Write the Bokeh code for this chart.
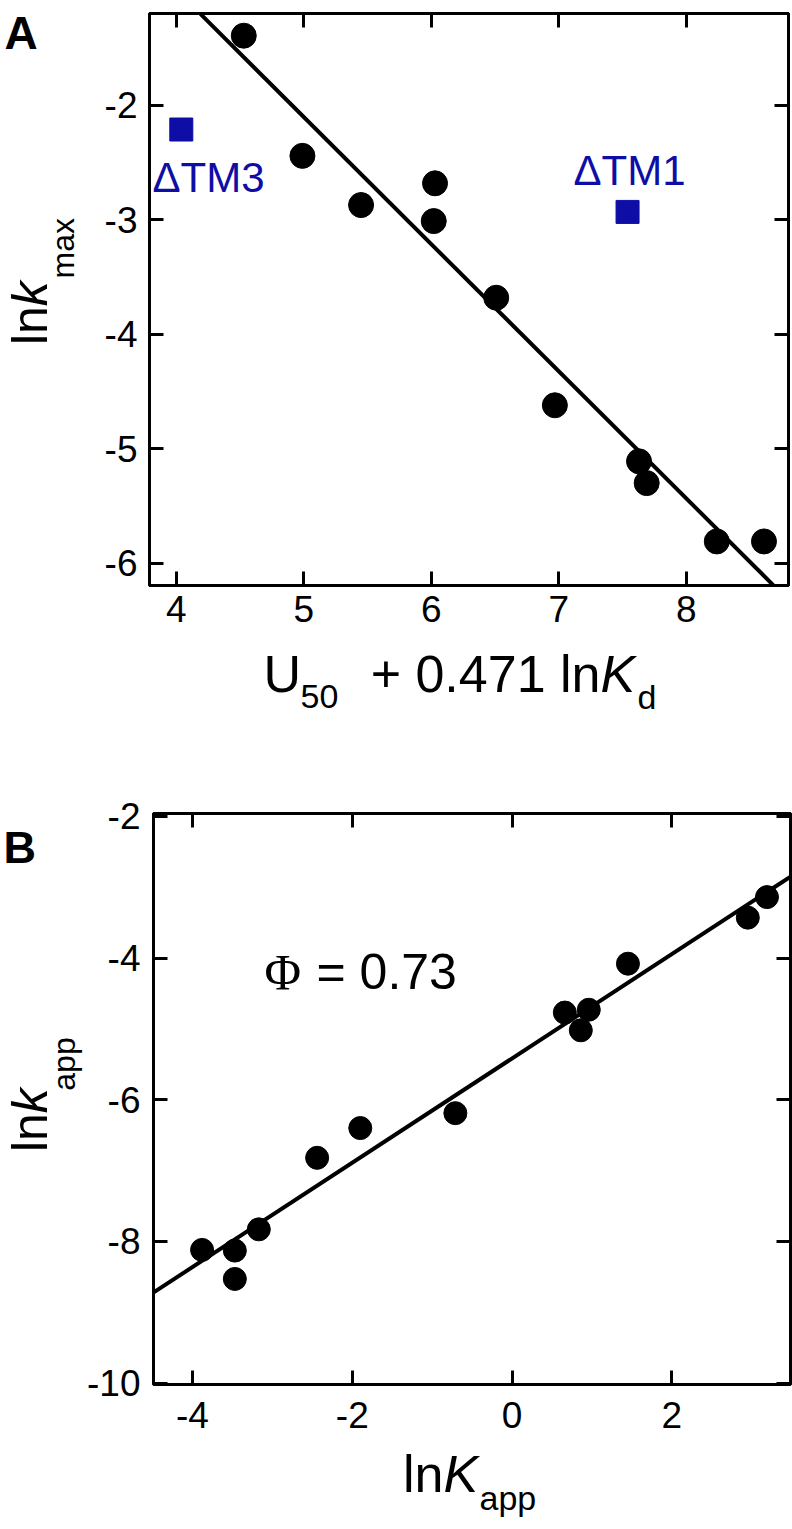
from math import pi
from bokeh.plotting import figure
from bokeh.layouts import column, row
from bokeh.models import Label, LinearAxis, FixedTicker, Range1d
from bokeh.embed import file_html
from bokeh.resources import INLINE

# ---------------- Panel A data ----------------
a_x = [4.53, 4.99, 5.45, 6.02, 6.03, 6.51, 6.97, 7.63, 7.69, 8.24, 8.61]
a_y = [-1.39, -2.44, -2.87, -3.01, -2.68, -3.68, -4.62, -5.11, -5.30, -5.81, -5.81]
tm_x = [4.04, 7.54]
tm_y = [-2.21, -2.93]
tm_names = ["ΔTM3", "ΔTM1"]
a_fit_x = [4.19, 8.69]
a_fit_y = [-1.2, -6.2]
a_xticks = [4, 5, 6, 7, 8]
a_yticks = [-6, -5, -4, -3, -2]

# ---------------- Panel B data ----------------
b_x = [-3.88, -3.47, -3.47, -3.17, -2.44, -1.90, -0.71, 0.66, 0.86, 0.96, 1.45, 2.95, 3.19]
b_y = [-8.12, -8.13, -8.53, -7.83, -6.82, -6.40, -6.19, -4.77, -5.02, -4.73, -4.08, -3.43, -3.14]
b_fit_x = [-4.5, 3.5]
b_fit_y = [-8.73, -2.84]
b_xticks = [-4, -2, 0, 2]
b_yticks = [-10, -8, -6, -4, -2]
phi_parts = ["Φ", "= 0.73"]

FONT = "Liberation Sans"
SERIF = "Liberation Serif"
BLUE = "#0E0EA6"
MID = 0.35  # offset from alphabetic baseline to the anchor the renderer centres on


def make_fig(xr, yr, fw, fh, bl, br, bt, bb, xticks, yticks, xstand, ystand):
    p = figure(frame_width=fw, frame_height=fh,
               x_range=Range1d(*xr), y_range=Range1d(*yr),
               output_backend="svg", toolbar_location=None,
               min_border_left=bl, min_border_right=br,
               min_border_top=bt, min_border_bottom=bb)
    p.xgrid.visible = False
    p.ygrid.visible = False
    p.outline_line_color = "black"
    p.outline_line_width = 3
    p.background_fill_color = "white"
    p.border_fill_color = "white"
    p.xaxis.ticker = FixedTicker(ticks=xticks)
    p.yaxis.ticker = FixedTicker(ticks=yticks)
    for axis, ticks in ((p.xaxis[0], xticks), (p.yaxis[0], yticks)):
        axis.axis_line_width = 3
        axis.major_tick_in = 14
        axis.major_tick_out = 0
        axis.major_tick_line_width = 3
        axis.minor_tick_line_color = None
        axis.major_label_text_font = FONT
        axis.major_label_text_font_size = "37px"
        axis.major_label_text_color = "black"
        axis.major_label_overrides = {t: str(t) for t in ticks}
    p.xaxis[0].major_label_standoff = xstand
    p.yaxis[0].major_label_standoff = ystand
    for ticks, side in ((xticks, "above"), (yticks, "right")):
        ax = LinearAxis(ticker=FixedTicker(ticks=ticks),
                        major_label_overrides={t: "" for t in ticks},
                        major_label_text_font_size="1px",
                        major_label_standoff=0, major_tick_in=14, major_tick_out=0,
                        major_tick_line_width=3, minor_tick_line_color=None,
                        axis_line_width=3)
        p.add_layout(ax, side)
    return p


def label_fig(w, h):
    f = figure(width=w, height=h, x_range=Range1d(0, w), y_range=Range1d(h, 0),
               min_border=0, toolbar_location=None, output_backend="svg",
               x_axis_location=None, y_axis_location=None)
    f.xgrid.visible = False
    f.ygrid.visible = False
    f.outline_line_color = None
    return f


def lab(p, pos, text, size, align="left", angle=0.0, style="normal", color="black", font=FONT):
    p.add_layout(Label(x=pos[0], y=pos[1], text=text, text_font=font,
                       text_font_size=f"{size}px", text_font_style=style,
                       text_color=color, text_align=align, text_baseline="alphabetic",
                       angle=angle))


def hpos(x, base, size, off=0):
    # horizontal text: pixel position of the alphabetic baseline -> anchor
    return (x, base - MID * size - off)


def vpos(base_x, y, size):
    # text rotated 90 deg: glyph tops point to the left
    return (base_x - MID * size, y)


# ---------------- Panel A ----------------
A_XR = (3.7906, 3.7906 + 639 / 127.5)
A_YR = (-6.195, -1.196)
pA = make_fig(A_XR, A_YR, 639, 572, 69, 4, 13, 56, a_xticks, a_yticks, 10, 12)


def a_pos(px, py):
    return (A_XR[0] + (px - 149) / 127.5, A_YR[1] - (py - 13) / 114.4)


pA.line(a_fit_x, a_fit_y, line_width=4, line_color="black")
pA.scatter(a_x, a_y, marker="circle", size=25, fill_color="black", line_color="black")
pA.scatter(tm_x, tm_y, marker="square", size=23, fill_color=BLUE, line_color=BLUE)
lab(pA, a_pos(*hpos(152, 192, 42)), tm_names[0], 42, color=BLUE)
lab(pA, a_pos(*hpos(573, 185, 42)), tm_names[1], 42, color=BLUE)

# left strip for panel A (page x 0..80, y 0..641)
ylA = label_fig(80, 641)
lab(ylA, hpos(4, 38, 46), "A", 46, style="bold")
lab(ylA, vpos(47, 328, 50), "ln", 50, align="right", angle=pi / 2)
lab(ylA, vpos(47, 328, 50), "k", 50, align="left", angle=pi / 2, style="italic")
lab(ylA, vpos(74, 297, 32), "max", 32, angle=pi / 2)

# bottom strip for panel A (page y 641..760)
OA = 641
xlA = label_fig(792, 119)
lab(xlA, hpos(263, 692, 52, OA), "U", 52)
lab(xlA, hpos(300, 708, 34, OA), "50", 34)
lab(xlA, hpos(600, 692, 52, OA), "+ 0.471 ln", 52, align="right")
lab(xlA, hpos(600, 692, 52, OA), "K", 52, style="italic")
lab(xlA, hpos(637, 708, 34, OA), "d", 34)

# ---------------- Panel B ----------------
B_XR = (-4.488, -4.488 + 637 / 79.9)
B_YR = (-10.02, -1.96)
pB = make_fig(B_XR, B_YR, 637, 571, 67, 4, 53, 62, b_xticks, b_yticks, 17, 13)


def b_pos(px, py):
    return (B_XR[0] + (px - 151) / 79.9, B_YR[1] - (py - 813) / 70.8)


pB.line(b_fit_x, b_fit_y, line_width=4, line_color="black")
pB.scatter(b_x, b_y, marker="circle", size=23, fill_color="black", line_color="black")
lab(pB, b_pos(*hpos(262, 989, 50)), phi_parts[0], 50, font=SERIF)
lab(pB, b_pos(*hpos(314, 989, 50)), phi_parts[1], 50)

# left strip for panel B (page x 0..84, y 760..1446)
OB = 760
ylB = label_fig(84, 686)
lab(ylB, hpos(3, 817, 45, OB), "B", 45, style="bold")
lab(ylB, vpos(47, 1120 - OB, 50), "ln", 50, align="right", angle=pi / 2)
lab(ylB, vpos(47, 1120 - OB, 50), "k", 50, align="left", angle=pi / 2, style="italic")
lab(ylB, vpos(75, 1093 - OB, 32), "app", 32, angle=pi / 2)

# bottom strip for panel B (page y 1446..1528)
OC = 1446
xlB = label_fig(792, 82)
lab(xlB, hpos(443, 1492, 52, OC), "ln", 52, align="right")
lab(xlB, hpos(443, 1492, 52, OC), "K", 52, style="italic")
lab(xlB, hpos(479, 1509, 34, OC), "app", 34)

layout = column(row(ylA, pA), xlA, row(ylB, pB), xlB)
open("out.html", "w").write(file_html(layout, INLINE))
